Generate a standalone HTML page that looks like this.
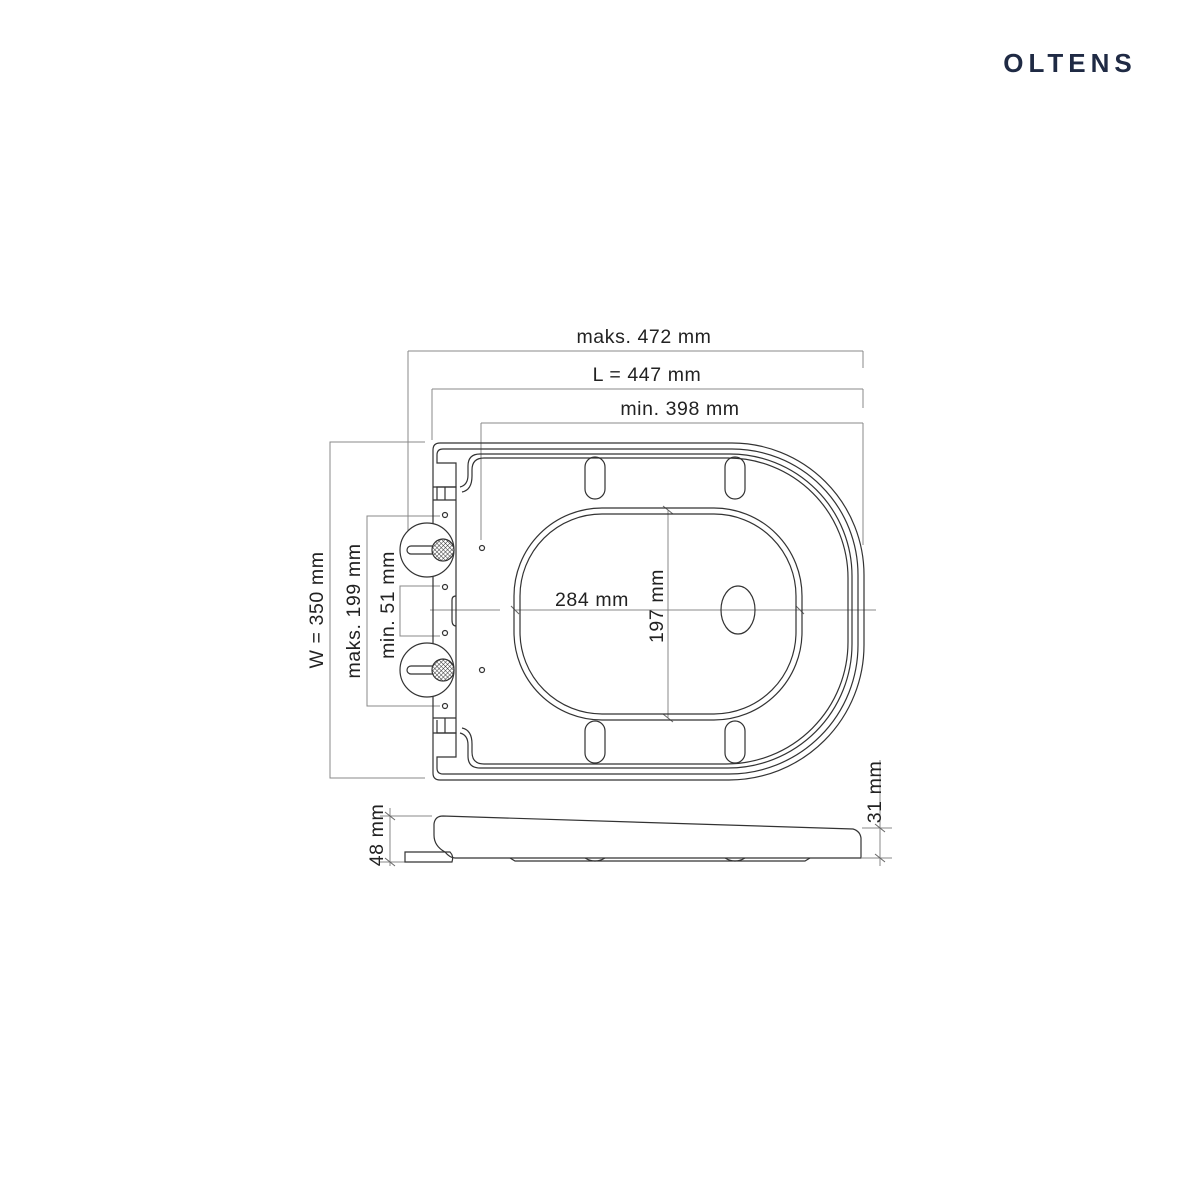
<!DOCTYPE html>
<html><head><meta charset="utf-8"><style>
html,body{margin:0;padding:0;background:#fff;}
svg{display:block}
text{font-family:"Liberation Sans",sans-serif;fill:#222;}
</style></head><body>
<svg width="1200" height="1200" viewBox="0 0 1200 1200" xmlns="http://www.w3.org/2000/svg">
<defs>
<pattern id="kn" width="3" height="3" patternUnits="userSpaceOnUse" patternTransform="rotate(45)">
<rect width="3" height="3" fill="#fff"/><path d="M0 0H3M0 0V3" stroke="#333" stroke-width="1"/>
</pattern>
</defs>
<text x="1070" y="72" font-size="26" font-weight="bold" text-anchor="middle" style="fill:#1f2a44;letter-spacing:5px">OLTENS</text>

<g stroke="#888" stroke-width="1" fill="none">
<path d="M408 351H863M408 351V540M863 351V368"/>
<path d="M432 389H863M432 389V440M863 389V408"/>
<path d="M481 423H863M481 423V540M863 423V545"/>
<path d="M425 442H330V778H425"/>
<path d="M440 516H367V706H440"/>
<path d="M440 586H400V636H440"/>
<path d="M430 610H500M515 610H876"/>
<path d="M668 510V718"/>
<path d="M390 808V866M380 816H432M380 862H405"/>
<path d="M880 760V866M862 828H892M862 858H892"/>
</g>
<g stroke="#666" stroke-width="1">
<path d="M385 812l10 8M385 858l10 8M875 824l10 8M875 854l10 8M663 506l10 8M663 714l10 8M511 606l8 8M796 606l8 8"/>
</g>

<g stroke="#333" stroke-width="1.2" fill="none">
<path d="M440 443H732A132 132 0 0 1 864 575V645A135 135 0 0 1 729 780H440Q433 780 433 773V450Q433 443 440 443Z"/>
<path d="M443 449H732A126 126 0 0 1 858 575V645A129 129 0 0 1 729 774H443Q437 774 437 768V757H456V733H437V720M437 500V487H456V463H437V455Q437 449 443 449"/>
<path d="M480 454H730A122 122 0 0 1 852 576V644A124 124 0 0 1 728 768H480Q468 768 468 756V745Q468 735 460 733M460 487Q468 485 468 475V466Q468 454 480 454"/>
<path d="M484 458H728A120 120 0 0 1 848 578V642A122 122 0 0 1 726 764H484Q472 764 472 752V744Q472 730 462 728M462 492Q472 490 472 476V470Q472 458 484 458"/>
<path d="M433 487H456V733H433M445 487V500M445 718V733M433 500H456M433 718H456"/>
<path d="M456 596Q452 596 452 600V620Q452 626 456 626"/>
<rect x="514" y="508" width="288" height="212" rx="88"/>
<rect x="520" y="514" width="276" height="200" rx="82"/>
<ellipse cx="738" cy="610" rx="17" ry="24"/>
<rect x="585" y="457" width="20" height="42" rx="10"/>
<rect x="725" y="457" width="20" height="42" rx="10"/>
<rect x="585" y="721" width="20" height="42" rx="10"/>
<rect x="725" y="721" width="20" height="42" rx="10"/>
<circle cx="482" cy="548" r="2.5"/><circle cx="482" cy="670" r="2.5"/>
<circle cx="445" cy="515" r="2.5"/><circle cx="445" cy="587" r="2.5"/>
<circle cx="445" cy="633" r="2.5"/><circle cx="445" cy="706" r="2.5"/>
<circle cx="427" cy="550" r="27" fill="#fff"/>
<circle cx="427" cy="670" r="27" fill="#fff"/>
<rect x="407" y="546" width="32" height="8" rx="4" fill="#fff"/>
<rect x="407" y="666" width="32" height="8" rx="4" fill="#fff"/>
<circle cx="443" cy="550" r="11" fill="url(#kn)"/>
<circle cx="443" cy="670" r="11" fill="url(#kn)"/>
<path d="M443 816L853 829Q860 831 861 838V858H455Q450 858 445 852Q434 846 434 835V824Q435 816 443 816Z"/>
<path d="M405 852H450Q454 856 452 862H405Z"/>
<path d="M510 858L515 861H805L810 858"/>
<path d="M585 858Q595 864 605 858M725 858Q735 864 745 858"/>
</g>

<g font-size="19.5" style="letter-spacing:0.6px">
<text x="644" y="343" text-anchor="middle">maks. 472 mm</text>
<text x="647" y="381" text-anchor="middle">L = 447 mm</text>
<text x="680" y="415" text-anchor="middle">min. 398 mm</text>
<text x="592" y="606" text-anchor="middle">284 mm</text>
<text transform="translate(663 606) rotate(-90)" text-anchor="middle">197 mm</text>
<text transform="translate(323 610) rotate(-90)" text-anchor="middle">W = 350 mm</text>
<text transform="translate(360 611) rotate(-90)" text-anchor="middle">maks. 199 mm</text>
<text transform="translate(394 605) rotate(-90)" text-anchor="middle">min. 51 mm</text>
<text transform="translate(383 835) rotate(-90)" text-anchor="middle">48 mm</text>
<text transform="translate(881 792) rotate(-90)" text-anchor="middle">31 mm</text>
</g>
</svg>
</body></html>
